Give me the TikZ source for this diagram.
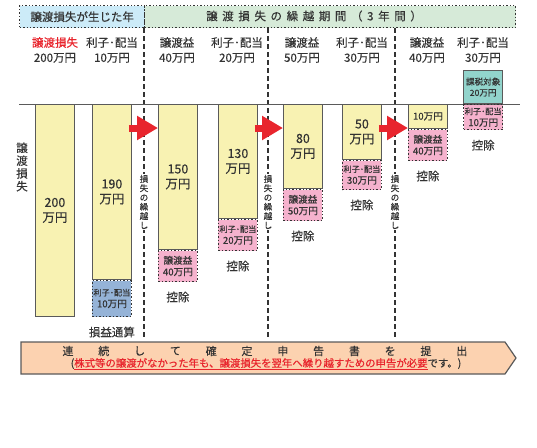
\documentclass[tikz,border=0pt]{standalone}
\usepackage{fontspec}
\setmainfont{Noto Sans CJK JP}[UprightFeatures={FakeBold=0.35}]
\usetikzlibrary{positioning,arrows.meta}

\definecolor{txtgray}{HTML}{333333}
\definecolor{boxgray}{HTML}{5A5A5A}
\definecolor{lossred}{HTML}{E8252D}
\definecolor{lossyellow}{HTML}{F8F2B2}
\definecolor{gainpink}{HTML}{F5B2CD}
\definecolor{offsetblue}{HTML}{95B3D7}
\definecolor{taxteal}{HTML}{92D4CC}
\definecolor{headblue}{HTML}{CCEBF8}
\definecolor{headgreen}{HTML}{D6EAD8}
\definecolor{bannerpeach}{HTML}{FCD2B0}

\newcommand{\rhaito}{{\fontsize{8.2}{10}\selectfont 利子･配当}}

\begin{document}
\begin{tikzpicture}[
    x=1pt, y=-1pt,
    every node/.style={text=txtgray},
    headbox/.style={draw=txtgray, dotted, line width=1.4pt, minimum height=22pt, inner sep=0pt, anchor=north west},
    headtext/.style={font=\fontsize{11.5}{13}\selectfont},
    toplabel/.style={align=center, font=\fontsize{11.5}{15}\selectfont},
    yellowbox/.style={draw=boxgray, line width=0.8pt, fill=lossyellow, minimum width=39pt, inner sep=0pt, anchor=north west, align=center, font=\fontsize{12.5}{15}\selectfont},
    pinkbox/.style={draw=txtgray, dotted, line width=1.4pt, fill=gainpink, minimum width=39pt, minimum height=31pt, inner sep=0pt, align=center, font=\fontsize{9.6}{11.5}\selectfont},
    note/.style={font=\fontsize{11.5}{13}\selectfont},
    vtext/.style={fill=white, inner sep=1pt, align=center, font=\fontsize{8.5}{9.3}\selectfont},
    yeardash/.style={txtgray, line width=1.3pt, dash pattern=on 5pt off 3pt},
    bigarrow/.style={lossred, line width=7pt, shorten <=-3pt, -{Triangle[length=21pt,width=23pt]}}
  ]
    \useasboundingbox (0,0) rectangle (537,447);

    % 1. 見出し
    \node[headbox, fill=headblue, minimum width=125pt] (h1) at (19,5) {};
    \node[headbox, fill=headgreen, minimum width=371pt] (h2) at (144,5) {};
    \node[headtext] (h1t) at (h1.center) {譲渡損失が生じた年};
    \node[headtext] (h2t) at (314,16) {\addfontfeature{LetterSpace=40}譲渡損失の繰越期間（3年間）};

    % 2. 区切り線
    \foreach \x in {144,268,395} {
        \draw[yeardash] (\x,28) -- (\x,337);
    }
    \draw[boxgray, line width=0.8pt] (19,104) -- (520,104);

    % 3. 上の金額
    \node[toplabel] (l1) at (55,50) {\textcolor{lossred}{譲渡損失}\\200万円};
    \node[toplabel] (l2) at (112,50) {利子･配当\\10万円};
    \node[toplabel] (l3) at (177,50) {譲渡益\\40万円};
    \node[toplabel] (l4) at (237,50) {利子･配当\\20万円};
    \node[toplabel] (l5) at (302,50) {譲渡益\\50万円};
    \node[toplabel] (l6) at (362,50) {利子･配当\\30万円};
    \node[toplabel] (l7) at (427,50) {譲渡益\\40万円};
    \node[toplabel] (l8) at (483,50) {利子･配当\\30万円};

    % 4. 損失の箱
    \node[yellowbox, minimum height=212pt] (b1) at (35,104) {200\\万円};
    \node[yellowbox, minimum height=175pt] (b2) at (92,104) {190\\万円};
    \node[yellowbox, minimum height=145pt] (b3) at (158,104) {150\\万円};
    \node[yellowbox, minimum height=114pt] (b4) at (218,104) {130\\万円};
    \node[yellowbox, minimum height=84pt] (b5) at (283,104) {80\\万円};
    \node[yellowbox, minimum height=55pt] (b6) at (342,104) {50\\万円};
    \node[yellowbox, minimum height=24pt, font=\fontsize{9.6}{11}\selectfont] (b7) at (408,104) {10万円};

    % 5. 差し引く分
    \node[pinkbox, fill=offsetblue, minimum height=36pt, below=0pt of b2] (p2) {\rhaito\\10万円};
    \node[pinkbox, below=0pt of b3] (p3) {譲渡益\\40万円};
    \node[pinkbox, below=0pt of b4] (p4) {\rhaito\\20万円};
    \node[pinkbox, below=0pt of b5] (p5) {譲渡益\\50万円};
    \node[pinkbox, minimum height=29pt, below=0pt of b6] (p6) {\rhaito\\30万円};
    \node[pinkbox, below=0pt of b7] (p7) {譲渡益\\40万円};
    \node[pinkbox, minimum height=25pt, anchor=north west] (p8) at (463,104) {\rhaito\\10万円};
    \node[pinkbox, solid, draw=boxgray, line width=0.8pt, fill=taxteal, minimum height=33pt, above=0pt of p8, font=\fontsize{8.6}{11}\selectfont] (t8) {課税対象\\20万円};

    \node[note, below=6pt of p2] (k2) {損益通算};
    \foreach \p in {p3,p4,p5,p6,p7,p8} {
        \node[note, below=6pt of \p] (k\p) {控除};
    }

    % 6. 繰越しの矢印
    \coordinate (ar) at (0,128);
    \node[vtext] (v1) at (144,202) {損\\失\\の\\繰\\越\\し};
    \node[vtext] (v2) at (268,202) {損\\失\\の\\繰\\越\\し};
    \node[vtext] (v3) at (395,202) {損\\失\\の\\繰\\越\\し};
    \draw[bigarrow] (b2.east |- ar) -- (b3.west |- ar);
    \draw[bigarrow] (b4.east |- ar) -- (b5.west |- ar);
    \draw[bigarrow] (b6.east |- ar) -- (b7.west |- ar);

    \node[align=center, font=\fontsize{11.5}{12.8}\selectfont] (side) at (22,167) {譲\\渡\\損\\失};

    % 7. 申告の帯
    \draw[boxgray, line width=1.2pt, fill=bannerpeach]
        (21,342) -- (505,342) -- (516,358) -- (505,374) -- (21,374) -- cycle;
    \foreach \ch [count=\i] in {連,続,し,て,確,定,申,告,書,を,提,出} {
        \node[font=\fontsize{11}{12}\selectfont, inner sep=0pt] (c\i) at ({68+(\i-1)*35.8},351) {\ch};
    }
    \node[font=\fontsize{10.4}{12}\selectfont, inner sep=0pt] (c0) at (266,364)
        {(\textcolor{lossred}{\underline{株式等の譲渡がなかった年も、譲渡損失を翌年へ繰り越すための申告が必要}}です。)};

  \end{tikzpicture}
\end{document}
